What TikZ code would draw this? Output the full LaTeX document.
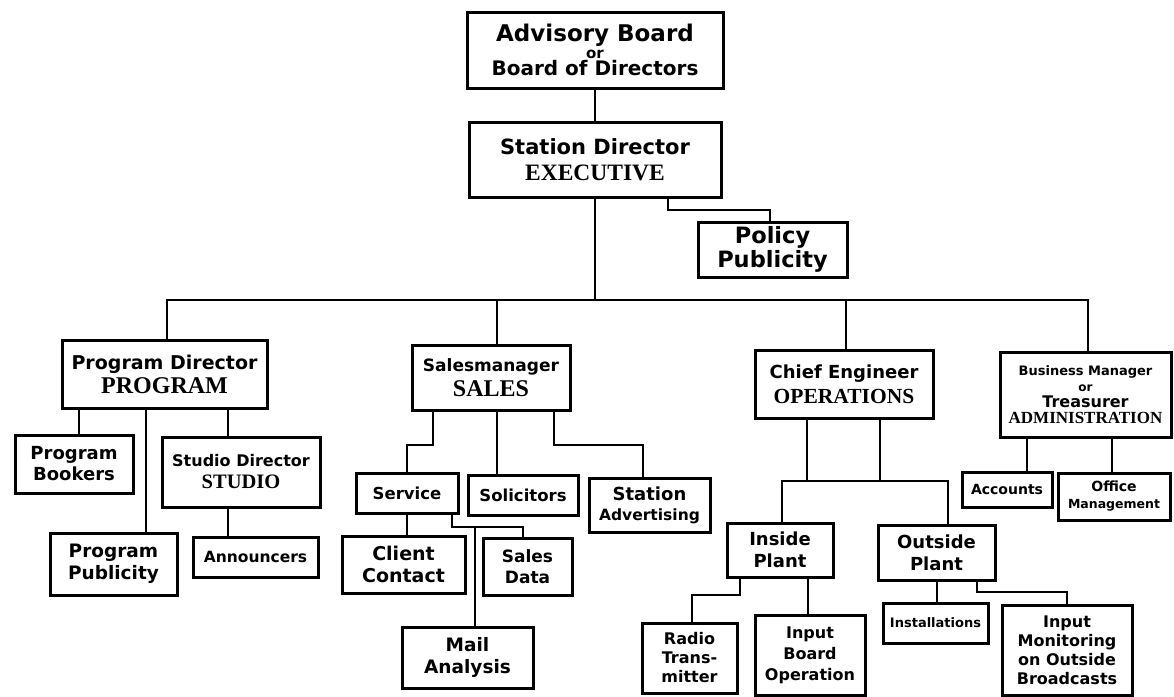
\documentclass[tikz,border=0pt]{standalone}
\usepackage{fontspec}
\setmainfont{DejaVu Sans}
\newfontfamily\capf{Liberation Serif}
\newcommand\fsz[2]{\fontsize{#1pt}{#2pt}\selectfont}
\begin{document}
\begin{tikzpicture}[x=1pt,y=-1pt,
  box/.style={draw, line width=3pt, align=center, inner sep=0pt, font=\bfseries},
  conn/.style={line width=2pt}]
\useasboundingbox (0,0) rectangle (1174,696);
% top
\node[box, minimum width=256pt, minimum height=76pt, font=\bfseries\fsz{20}{17}] (adv) at (595,50)
  {{\fsz{23}{17}Advisory Board}\\{\fsz{15}{14}or}\\Board of Directors};
\node[box, minimum width=252pt, minimum height=75pt, font=\bfseries\fsz{21}{26}] (sd) at (595,159.5)
  {Station Director\\{\capf\bfseries\fsz{23.5}{26}EXECUTIVE}};
\node[box, minimum width=149pt, minimum height=55pt, font=\bfseries\fsz{22.5}{24}] (pol) at (772.5,249.5)
  {Policy\\Publicity};
% program
\node[box, minimum width=205pt, minimum height=68pt, font=\bfseries\fsz{19}{24}] (pd) at (164.5,374)
  {Program Director\\{\capf\bfseries\fsz{24}{24}PROGRAM}};
\node[box, minimum width=118pt, minimum height=58pt, font=\bfseries\fsz{18}{21}] (pb) at (74,464)
  {Program\\Bookers};
\node[box, minimum width=127pt, minimum height=62pt, font=\bfseries\fsz{18.5}{22}] (pp) at (113.5,564)
  {Program\\Publicity};
\node[box, minimum width=158pt, minimum height=70pt, font=\bfseries\fsz{16}{22}] (stu) at (241,472)
  {Studio Director\\{\capf\bfseries\fsz{20.5}{22}STUDIO}};
\node[box, minimum width=125pt, minimum height=40pt, font=\bfseries\fsz{15.5}{18}] (ann) at (255.5,557)
  {Announcers};
% sales
\node[box, minimum width=158pt, minimum height=65pt, font=\bfseries\fsz{17}{25}] (sales) at (491,377.5)
  {Salesmanager\\{\capf\bfseries\fsz{24}{25}SALES}};
\node[box, minimum width=102pt, minimum height=40pt, font=\bfseries\fsz{16.5}{18}] (serv) at (407,493)
  {Service};
\node[box, minimum width=110pt, minimum height=40pt, font=\bfseries\fsz{16.5}{18}] (sol) at (523,495)
  {Solicitors};
\node[box, minimum width=121pt, minimum height=54pt, font=\bfseries\fsz{18}{20}] (sta) at (649.5,505)
  {Station\\{\fsz{15.5}{18}Advertising}};
\node[box, minimum width=123pt, minimum height=57pt, font=\bfseries\fsz{19}{22}] (cc) at (403.5,564.5)
  {Client\\Contact};
\node[box, minimum width=89pt, minimum height=57pt, font=\bfseries\fsz{17}{21}] (sdata) at (527.5,566.5)
  {Sales\\Data};
\node[box, minimum width=131pt, minimum height=61pt, font=\bfseries\fsz{18.5}{22}] (mail) at (467.5,657.5)
  {Mail\\Analysis};
% operations
\node[box, minimum width=178pt, minimum height=68pt, font=\bfseries\fsz{18}{25}] (ce) at (844,384)
  {Chief Engineer\\{\capf\bfseries\fsz{21.5}{25}OPERATIONS}};
\node[box, minimum width=106pt, minimum height=54pt, font=\bfseries\fsz{18}{22}] (ins) at (780,550)
  {Inside\\Plant};
\node[box, minimum width=117pt, minimum height=55pt, font=\bfseries\fsz{18}{22}] (out) at (936.5,552.5)
  {Outside\\Plant};
\node[box, minimum width=95pt, minimum height=70pt, font=\bfseries\fsz{16}{19}] (rt) at (689.5,658)
  {Radio\\Trans-\\mitter};
\node[box, minimum width=110pt, minimum height=80pt, font=\bfseries\fsz{16}{21}] (ibo) at (810,655)
  {Input\\Board\\Operation};
\node[box, minimum width=105pt, minimum height=40pt, font=\bfseries\fsz{13}{16}] (inst) at (935.5,623)
  {Installations};
\node[box, minimum width=130pt, minimum height=90pt, font=\bfseries\fsz{16}{19}] (imob) at (1067,650)
  {Input\\Monitoring\\on Outside\\Broadcasts};
% administration
\node[box, minimum width=171pt, minimum height=85pt, font=\bfseries\fsz{13}{16}] (bm) at (1085.5,394.5)
  {Business Manager\\{\fsz{12}{10}or}\\{\fsz{16}{19}Treasurer}\\{\capf\bfseries\fsz{17}{20}ADMINISTRATION}};
\node[box, minimum width=90pt, minimum height=35pt, font=\bfseries\fsz{14}{16}] (acc) at (1007,489.5)
  {Accounts};
\node[box, minimum width=112pt, minimum height=47pt, font=\bfseries\fsz{14}{17}] (om) at (1114,496.5)
  {Office\\{\fsz{12.5}{16}Management}};
% helper coordinates
\coordinate (bus) at (0,300);
\coordinate (xPD) at (167,0);
\coordinate (xBM) at (1088,0);
\coordinate (xSA) at (497,0);
\coordinate (xCE) at (846,0);
\coordinate (xP1) at (668,0);
\coordinate (xP2) at (770,0);
\coordinate (yP) at (0,210);
\coordinate (xPB) at (79,0);
\coordinate (xPP) at (146,0);
\coordinate (xST) at (228,0);
\coordinate (xSV1) at (433,0);
\coordinate (ySV) at (0,445);
\coordinate (xSV2) at (407,0);
\coordinate (xSA1) at (554,0);
\coordinate (xSA2) at (643,0);
\coordinate (xSD1) at (452,0);
\coordinate (ySD) at (0,527);
\coordinate (xSD2) at (523,0);
\coordinate (xMA) at (475,0);
\coordinate (xI1) at (807,0);
\coordinate (xO1) at (880,0);
\coordinate (yIO) at (0,481);
\coordinate (xI2) at (782,0);
\coordinate (xO2) at (948,0);
\coordinate (xAC) at (1027,0);
\coordinate (xOM) at (1112,0);
\coordinate (xR1) at (740,0);
\coordinate (yR) at (0,595);
\coordinate (xR2) at (692,0);
\coordinate (xIB) at (808,0);
\coordinate (xIN) at (937,0);
\coordinate (xM1) at (977,0);
\coordinate (yM) at (0,592);
\coordinate (xM2) at (1067,0);
% connectors
\draw[conn] (adv.south) -- (adv.south |- sd.north);
\draw[conn] (sd.south) -- (sd.south |- bus);
\draw[conn] (sd.south -| xP1) -- (xP1 |- yP) -- (xP2 |- yP) -- (pol.north -| xP2);
\draw[conn] (pd.north -| xPD) -- (xPD |- bus) -- (xBM |- bus) -- (bm.north -| xBM);
\draw[conn] (xSA |- bus) -- (sales.north -| xSA);
\draw[conn] (xCE |- bus) -- (ce.north -| xCE);
\draw[conn] (pd.south -| xPB) -- (pb.north -| xPB);
\draw[conn] (pd.south -| xPP) -- (pp.north -| xPP);
\draw[conn] (pd.south -| xST) -- (stu.north -| xST);
\draw[conn] (stu.south -| xST) -- (ann.north -| xST);
\draw[conn] (sales.south -| xSV1) -- (xSV1 |- ySV) -- (xSV2 |- ySV) -- (serv.north -| xSV2);
\draw[conn] (sales.south -| xSA) -- (sol.north -| xSA);
\draw[conn] (sales.south -| xSA1) -- (xSA1 |- ySV) -- (xSA2 |- ySV) -- (sta.north -| xSA2);
\draw[conn] (serv.south -| xSV2) -- (cc.north -| xSV2);
\draw[conn] (serv.south -| xSD1) -- (xSD1 |- ySD) -- (xSD2 |- ySD) -- (sdata.north -| xSD2);
\draw[conn] (xMA |- ySD) -- (mail.north -| xMA);
\draw[conn] (ce.south -| xI1) -- (xI1 |- yIO);
\draw[conn] (ce.south -| xO1) -- (xO1 |- yIO);
\draw[conn] (ins.north -| xI2) -- (xI2 |- yIO) -- (xO2 |- yIO) -- (out.north -| xO2);
\draw[conn] (bm.south -| xAC) -- (acc.north -| xAC);
\draw[conn] (bm.south -| xOM) -- (om.north -| xOM);
\draw[conn] (ins.south -| xR1) -- (xR1 |- yR) -- (xR2 |- yR) -- (rt.north -| xR2);
\draw[conn] (ins.south -| xIB) -- (ibo.north -| xIB);
\draw[conn] (out.south -| xIN) -- (inst.north -| xIN);
\draw[conn] (out.south -| xM1) -- (xM1 |- yM) -- (xM2 |- yM) -- (imob.north -| xM2);
\end{tikzpicture}
\end{document}
